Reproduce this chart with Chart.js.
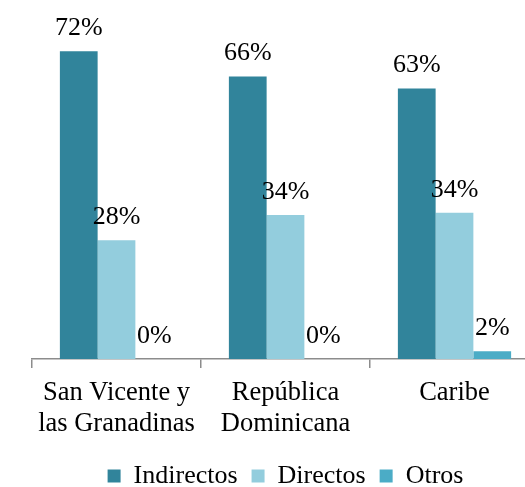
<!DOCTYPE html>
<html lang="es">
<head>
    <meta charset="UTF-8">
    <title>Indirectos, Directos, Otros</title>
    <style>
        html, body {
            margin: 0;
            padding: 0;
            background: #ffffff;
            overflow: hidden;
        }
        #wrap {
            width: 525px;
            height: 487px;
            overflow: hidden;
        }
    </style>
    <script src="https://cdn.jsdelivr.net/npm/chart.js"></script>
</head>
<body>
    <div id="wrap">
        <canvas id="chart" width="540" height="503"></canvas>
    </div>
    <script>
        const categories = [['San Vicente y', 'las Granadinas'], ['República', 'Dominicana'], 'Caribe'];
        const indirectos = [71.8, 65.9, 63.1];
        const directos = [27.7, 33.6, 34.1];
        const otros = [0, 0, 1.8];

        const fontFamily = '"Liberation Serif", "Times New Roman", serif';

        // value labels above each bar
        const barLabels = {
            id: 'barLabels',
            afterDatasetsDraw(chart) {
                const ctx = chart.ctx;
                ctx.save();
                ctx.font = '26px ' + fontFamily;
                ctx.fillStyle = '#000000';
                ctx.textAlign = 'center';
                ctx.textBaseline = 'alphabetic';
                chart.data.datasets.forEach((ds, i) => {
                    chart.getDatasetMeta(i).data.forEach((bar, j) => {
                        ctx.fillText(Math.round(ds.data[j]) + '%', bar.x, bar.y - 16);
                    });
                });
                ctx.restore();
            }
        };

        new Chart(document.getElementById('chart'), {
            type: 'bar',
            data: {
                labels: categories,
                datasets: [
                    { label: 'Indirectos', data: indirectos, backgroundColor: '#31849B' },
                    { label: 'Directos', data: directos, backgroundColor: '#93CDDD' },
                    { label: 'Otros', data: otros, backgroundColor: '#4BACC6' }
                ]
            },
            options: {
                responsive: false,
                animation: false,
                categoryPercentage: 0.67,
                barPercentage: 1,
                layout: {
                    padding: { left: 32, right: 1, top: 16, bottom: 4 }
                },
                plugins: {
                    tooltip: { enabled: false },
                    legend: {
                        position: 'bottom',
                        labels: {
                            color: '#000000',
                            font: { family: fontFamily, size: 26 },
                            boxWidth: 13,
                            boxHeight: 13,
                            padding: 14
                        }
                    }
                },
                scales: {
                    x: {
                        offset: true,
                        grid: {
                            offset: true,
                            drawOnChartArea: false,
                            drawTicks: true,
                            tickLength: 9,
                            color: '#8c8c8c',
                            lineWidth: 1.5
                        },
                        border: { display: true, color: '#8c8c8c', width: 1.5 },
                        ticks: {
                            color: '#000000',
                            font: { family: fontFamily, size: 26.5, lineHeight: 1.15 },
                            padding: 10,
                            maxRotation: 0,
                            autoSkip: false
                        }
                    },
                    y: {
                        display: false,
                        min: 0,
                        max: 80
                    }
                }
            },
            plugins: [barLabels]
        });
    </script>
</body>
</html>
